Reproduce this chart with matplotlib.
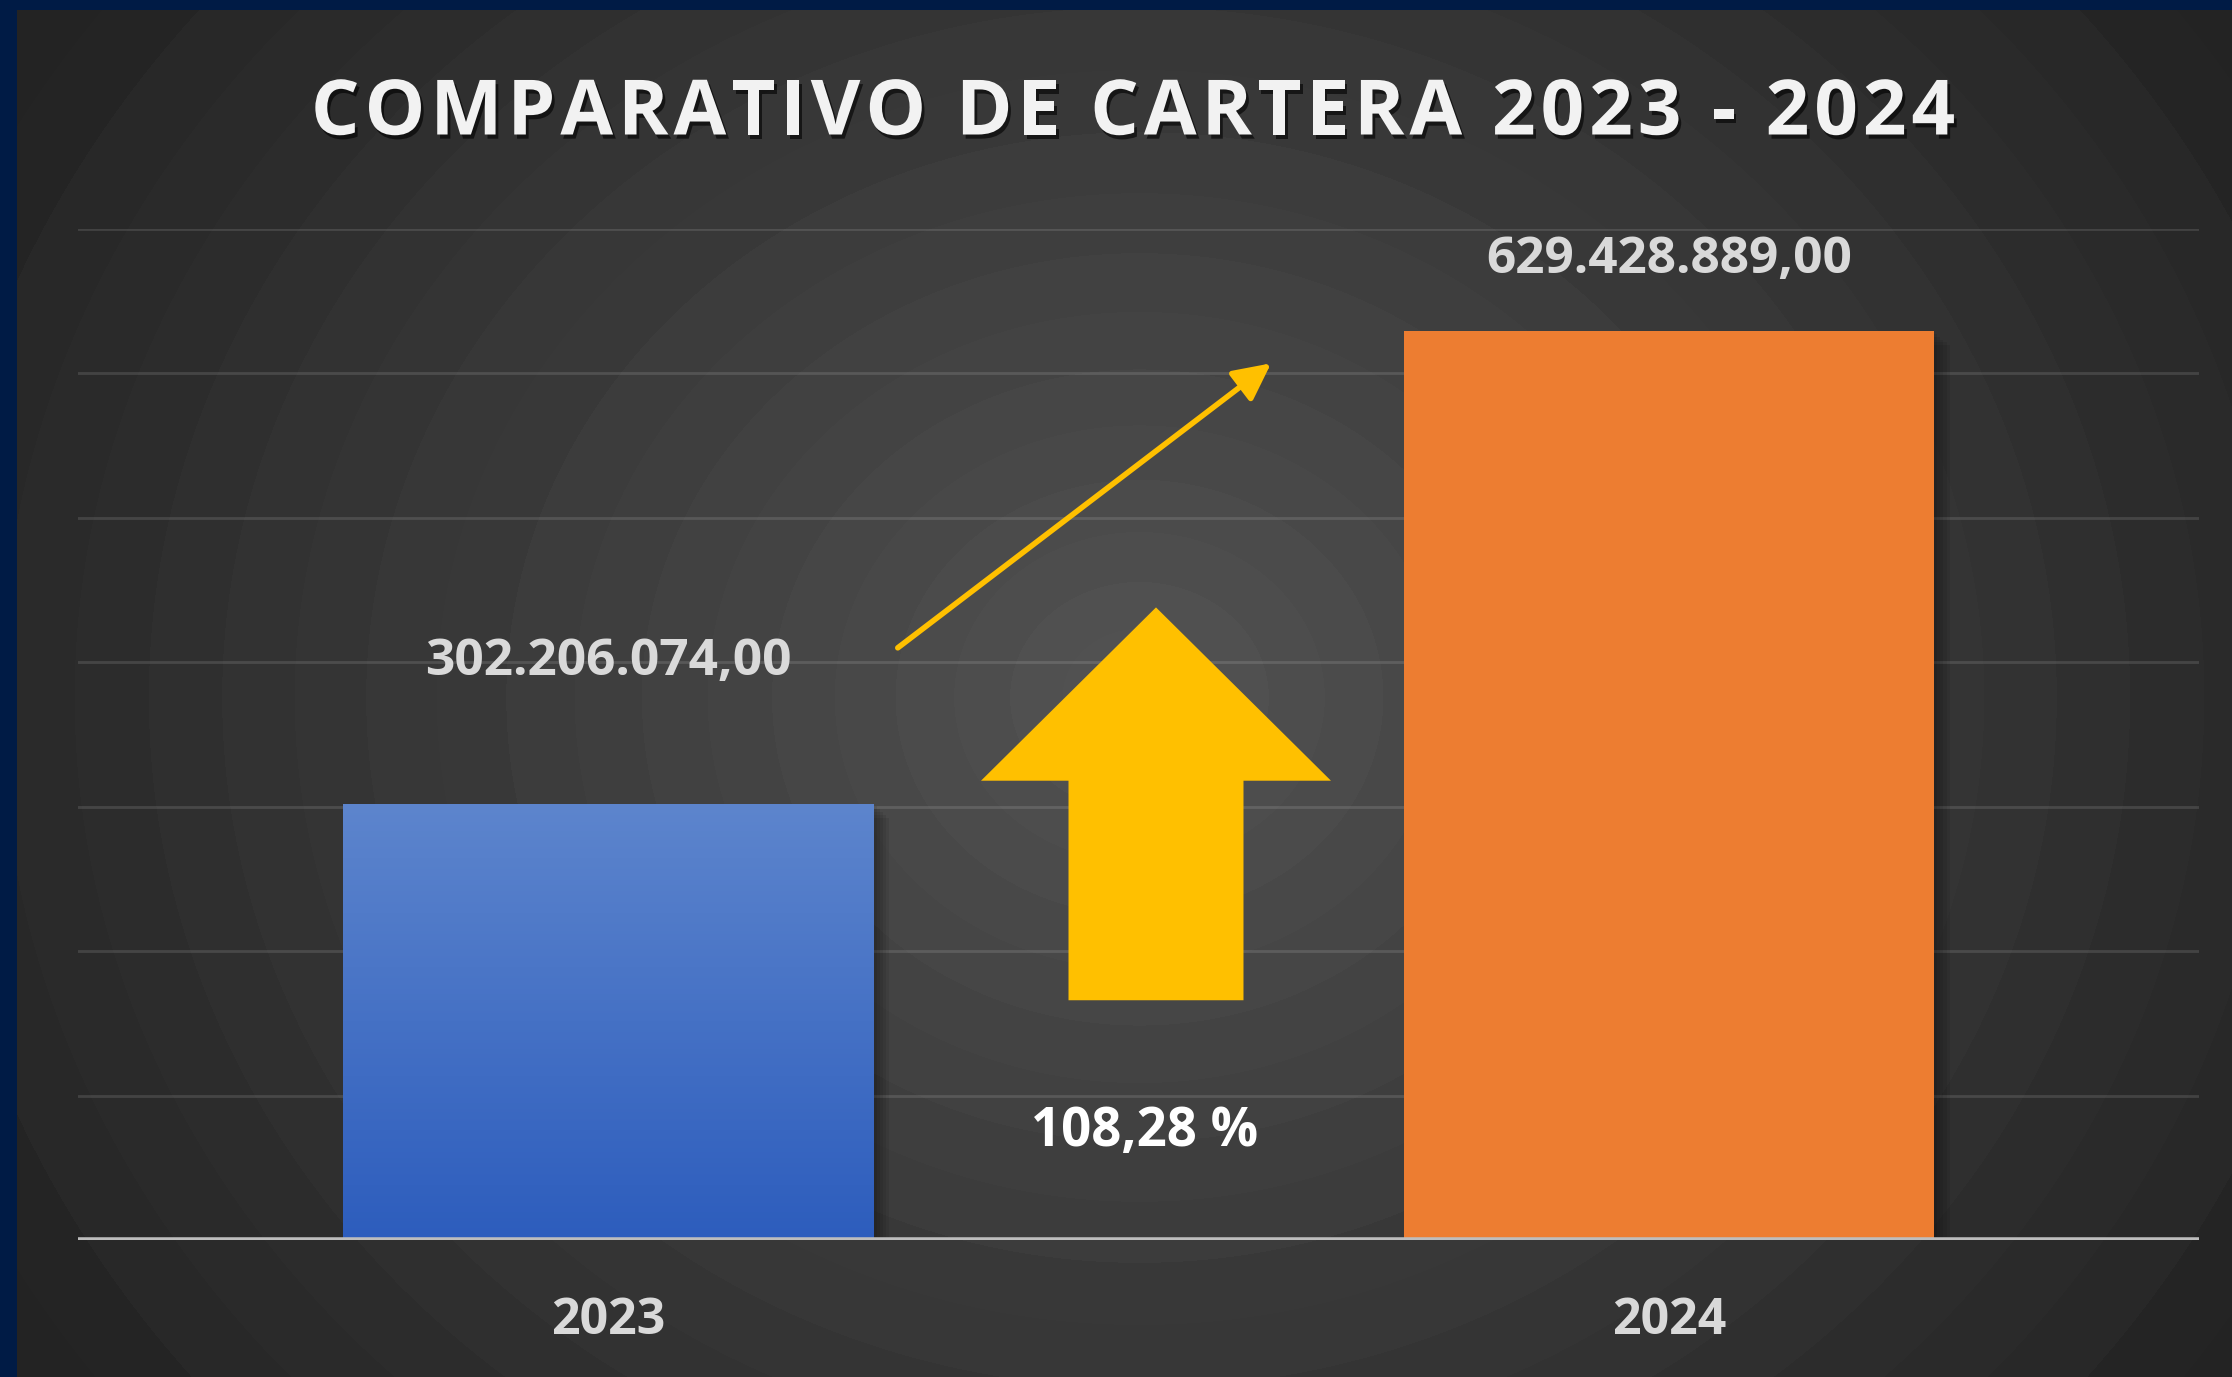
import numpy as np
import matplotlib.pyplot as plt
from matplotlib.patches import Polygon, Rectangle
from matplotlib.font_manager import FontProperties
from matplotlib.textpath import TextToPath
from matplotlib import patheffects as pe

# data
years = ["2023", "2024"]
cartera = [302206074.00, 629428889.00]
bar_colors = ["#4472C4", "#ED7D31"]
title = "COMPARATIVO DE CARTERA 2023 - 2024"

variacion = (cartera[1] / cartera[0] - 1) * 100


def fmt_es(v, dec=2):
    s = f"{v:,.{dec}f}"
    return s.replace(",", "X").replace(".", ",").replace("X", ".")


def spaced_title(fig, text, xc, yc, size, gap_px, **kw):
    # draw text char by char so the letters can be spread out a bit
    prop = FontProperties(family="Open Sans", weight="bold", size=size)
    ttp = TextToPath()
    px = fig.dpi / 72.0
    widths = [ttp.get_text_width_height_descent(ch, prop, ismath=False)[0] * px
              for ch in text]
    total = sum(widths) + gap_px * (len(text) - 1)
    x = xc - total / 2
    W, H = fig.bbox.width, fig.bbox.height
    for ch, w in zip(text, widths):
        if ch != " ":
            fig.text(x / W, yc, ch, fontproperties=prop, ha="left",
                     va="center", **kw)
        x += w + gap_px


plt.rcParams["font.family"] = ["Open Sans", "DejaVu Sans"]

W, H = 2232, 1377
fig = plt.figure(figsize=(W / 100, H / 100), dpi=100)
fig.patch.set_facecolor("#001b45")

# radial background with soft banding
left_pad, top_pad = 17, 10
bw, bh = W - left_pad, H - top_pad
bg = fig.add_axes([left_pad / W, 0, bw / W, bh / H])
yy, xx = np.mgrid[0:bh, 0:bw]
cx, cy = 1139 - left_pad, 697 - top_pad
r = np.hypot((xx - cx) / 1.12, yy - cy) / 1250.0
r = np.clip(r, 0, 1)
v = 0x57 - (0x57 - 0x22) * r ** 0.85
v = np.floor(v / 2.5) * 2.5
bg.imshow(v, cmap="gray", vmin=0, vmax=255, aspect="auto",
          interpolation="bilinear")
bg.set_axis_off()

# main axes
x0, x1 = 78, 2199
y_base, y_top = 1240, 229
ax = fig.add_axes([x0 / W, (H - y_base) / H, (x1 - x0) / W,
                   (y_base - y_top) / H])
ax.set_facecolor("none")
ymax = 700e6
xs = np.arange(len(years))
width = 0.5

# soft shadows behind the bars
for k in range(1, 6):
    for x, h in zip(xs, cartera):
        ax.add_patch(Rectangle((x - width / 2 + 0.003 * k, -2e6 * k), width,
                               h, facecolor="black", alpha=0.07,
                               edgecolor="none", zorder=1))

bars = ax.bar(xs, cartera, width=width, color=bar_colors, zorder=2)

# blue bar gradient
b0 = bars[0]
grad = np.linspace(0, 1, 256).reshape(-1, 1)
top_c = np.array([0x5d, 0x85, 0xcd]) / 255
bot_c = np.array([0x2d, 0x5d, 0xbd]) / 255
img = top_c * (1 - grad[..., None]) + bot_c * grad[..., None]
img = img.reshape(256, 1, 3)
im = ax.imshow(img, extent=[b0.get_x(), b0.get_x() + b0.get_width(), 0,
                            b0.get_height()],
               aspect="auto", zorder=3, origin="upper")
im.set_clip_path(b0)

ax.set_xlim(-0.5, len(years) - 0.5)
ax.set_ylim(0, ymax)
ax.set_yticks(np.arange(100e6, ymax + 1, 100e6))
ax.yaxis.grid(True, color="white", alpha=0.12, lw=2.0)
ax.set_axisbelow(True)
ax.tick_params(axis="y", length=0, labelleft=False)
for s in ax.spines.values():
    s.set_visible(False)
ax.axhline(0, color="#bdbdbd", lw=4, zorder=4, solid_capstyle="butt")

ax.set_xticks(xs)
ax.set_xticklabels(years, fontsize=36, fontweight="bold", color="#d9d9d9")
ax.tick_params(axis="x", length=0, pad=40)

# value labels
label_offsets = [98e6, 49e6]
for x, h, off in zip(xs, cartera, label_offsets):
    ax.text(x, h + off, fmt_es(h), ha="center", va="center", fontsize=37,
            fontweight="bold", color="#d9d9d9", zorder=5)

# trend arrow
gold = "#FFC000"
ax.annotate("", xy=(0.625, 607e6), xytext=(0.273, 410e6),
            arrowprops=dict(arrowstyle="-|>,head_length=0.9,head_width=0.45",
                            color=gold, lw=4, mutation_scale=25,
                            shrinkA=0, shrinkB=0), zorder=5)

# block up arrow
ac = 0.5165
head_half, shaft_half = 0.165, 0.0825
tip, neck, foot = 438e6, 318e6, 166e6
arrow = Polygon([(ac, tip), (ac + head_half, neck), (ac + shaft_half, neck),
                 (ac + shaft_half, foot), (ac - shaft_half, foot),
                 (ac - shaft_half, neck), (ac - head_half, neck)],
                closed=True, facecolor=gold, edgecolor="none", zorder=5)
ax.add_patch(arrow)

ax.text(0.506, 75e6, fmt_es(variacion) + " %", ha="center", va="center",
        fontsize=38, fontweight="bold", color="white", zorder=5)

spaced_title(fig, title, 1133, 1 - 115 / H, 55, 5, color="#f2f2f2",
             path_effects=[pe.withSimplePatchShadow(offset=(2, -3),
                                                    shadow_rgbFace="black",
                                                    alpha=0.6)])

fig.savefig("out.png", dpi=100, facecolor=fig.get_facecolor())
